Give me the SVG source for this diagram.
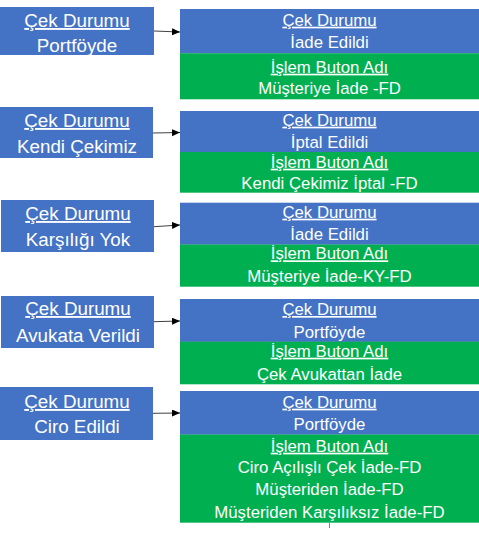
<svg xmlns="http://www.w3.org/2000/svg" width="479" height="536" viewBox="0 0 479 536">
<style>
.b{fill:#4472C4}
.g{fill:#00B050}
text{font-family:"Liberation Sans",Arial,sans-serif;fill:#FFFFFF;text-anchor:middle}
.l{font-size:18.8px}
.r{font-size:16.8px}
.u{text-decoration:underline}
.c{stroke:#404040;stroke-width:1;fill:none}
</style>
<defs>
<marker id="ah" markerUnits="userSpaceOnUse" markerWidth="9" markerHeight="8" refX="8" refY="3.5" orient="auto">
<path d="M0,0 L8,3.5 L0,7 z" fill="#000"/>
</marker>
</defs>
<g id="s1">
<rect class="b" x="0" y="7" width="154" height="48"/>
<text class="l u" x="77" y="27">Çek Durumu</text>
<text class="l" x="77" y="52">Portföyde</text>
</g>
<g id="s2">
<rect class="b" x="0" y="107" width="153" height="51"/>
<text class="l u" x="77" y="127">Çek Durumu</text>
<text class="l" x="77" y="153">Kendi Çekimiz</text>
</g>
<g id="s3">
<rect class="b" x="1" y="200" width="153" height="52"/>
<text class="l u" x="78" y="220">Çek Durumu</text>
<text class="l" x="78" y="246">Karşılığı Yok</text>
</g>
<g id="s4">
<rect class="b" x="1" y="296" width="153" height="52"/>
<text class="l u" x="78" y="315">Çek Durumu</text>
<text class="l" x="78" y="342">Avukata Verildi</text>
</g>
<g id="s5">
<rect class="b" x="0" y="387" width="153" height="53"/>
<text class="l u" x="77" y="408">Çek Durumu</text>
<text class="l" x="77" y="433">Ciro Edildi</text>
</g>
<g id="t1">
<rect class="b" x="180" y="9" width="299" height="44.5"/>
<rect class="g" x="180" y="53.3" width="299" height="46"/>
<text class="r u" x="329.5" y="25.7">Çek Durumu</text>
<text class="r" x="329.5" y="48.3">İade Edildi</text>
<text class="r u" x="329.5" y="72.7">İşlem Buton Adı</text>
<text class="r" x="329.5" y="94.3">Müşteriye İade -FD</text>
</g>
<g id="t2">
<rect class="b" x="180" y="111" width="299" height="41.2"/>
<rect class="g" x="180" y="152" width="299" height="40.7"/>
<text class="r u" x="329.5" y="125.7">Çek Durumu</text>
<text class="r" x="329.5" y="148.3">İptal Edildi</text>
<text class="r u" x="329.5" y="167.7">İşlem Buton Adı</text>
<text class="r" x="329.5" y="189">Kendi Çekimiz İptal -FD</text>
</g>
<g id="t3">
<rect class="b" x="180" y="202.7" width="299" height="42"/>
<rect class="g" x="180" y="244.5" width="299" height="42.2"/>
<text class="r u" x="329.5" y="217.7">Çek Durumu</text>
<text class="r" x="329.5" y="240">İade Edildi</text>
<text class="r u" x="329.5" y="259.3">İşlem Buton Adı</text>
<text class="r" x="329.5" y="281.7">Müşteriye İade-KY-FD</text>
</g>
<g id="t4">
<rect class="b" x="180" y="299" width="299" height="42.9"/>
<rect class="g" x="180" y="341.7" width="299" height="42.6"/>
<text class="r u" x="329.5" y="315">Çek Durumu</text>
<text class="r" x="329.5" y="337.7">Portföyde</text>
<text class="r u" x="329.5" y="356.7">İşlem Buton Adı</text>
<text class="r" x="329.5" y="380">Çek Avukattan İade</text>
</g>
<g id="t5">
<rect class="b" x="180" y="391" width="299" height="43.7"/>
<rect class="g" x="180" y="434.5" width="299" height="88.2"/>
<text class="r u" x="329.5" y="407.7">Çek Durumu</text>
<text class="r" x="329.5" y="430">Portföyde</text>
<text class="r u" x="329.5" y="451.7">İşlem Buton Adı</text>
<text class="r" x="329.5" y="473.3">Ciro Açılışlı Çek İade-FD</text>
<text class="r" x="329.5" y="495">Müşteriden İade-FD</text>
<text class="r" x="329.5" y="518.3">Müşteriden Karşılıksız İade-FD</text>
</g>
<g id="connectors">
<line class="c" x1="154" y1="31" x2="180" y2="32" marker-end="url(#ah)"/>
<line class="c" x1="153" y1="133" x2="180" y2="132.5" marker-end="url(#ah)"/>
<line class="c" x1="154" y1="226.7" x2="180" y2="225" marker-end="url(#ah)"/>
<line class="c" x1="154" y1="321.7" x2="180" y2="321" marker-end="url(#ah)"/>
<line class="c" x1="153" y1="413.3" x2="180" y2="413" marker-end="url(#ah)"/>
<line x1="329.5" y1="523" x2="329.5" y2="528" stroke="#808080" stroke-width="1"/>
</g>
</svg>
